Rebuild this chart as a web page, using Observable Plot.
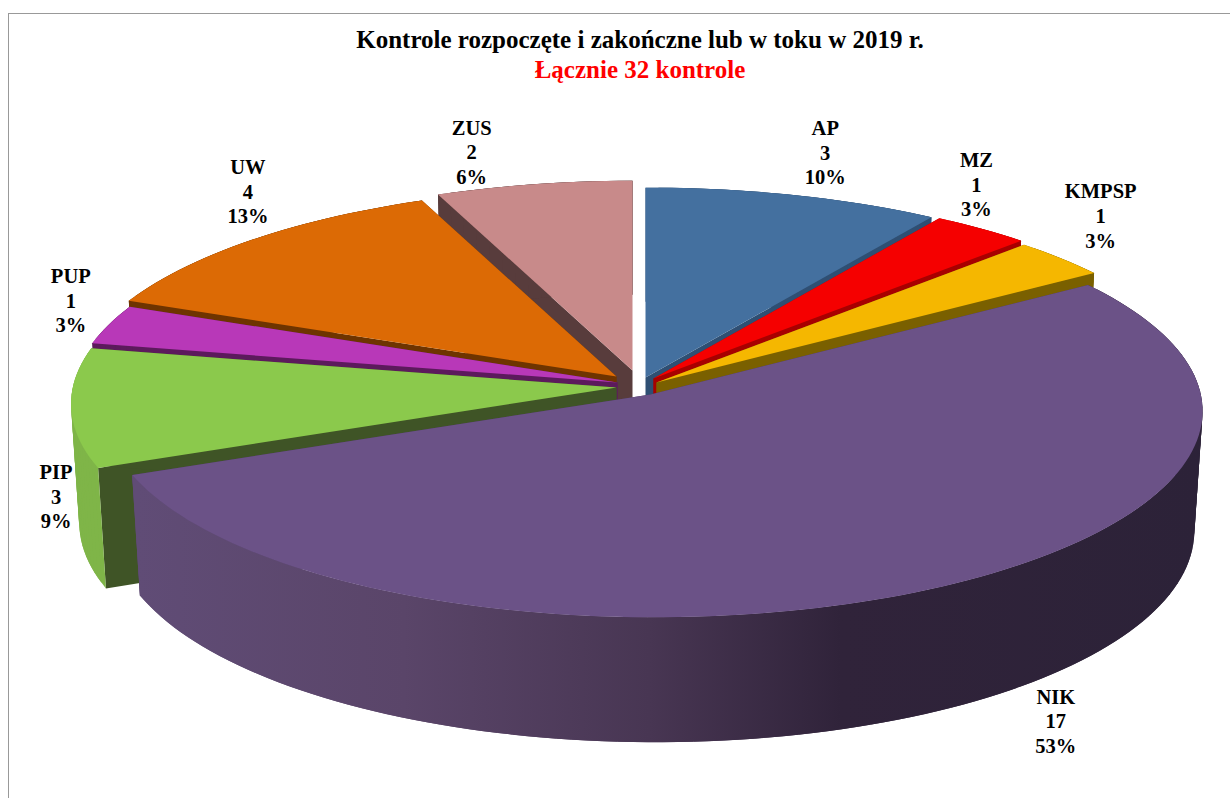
<!DOCTYPE html>
<html>
<head>
<meta charset="utf-8">
<script src="https://cdn.jsdelivr.net/npm/d3@7"></script>
<script src="https://cdn.jsdelivr.net/npm/@observablehq/plot@0.6"></script>
<style>
html,body{margin:0;padding:0;background:#fff;overflow:hidden}
#frame{position:absolute;left:8px;top:13px;width:1222px;height:785px;border-left:1px solid #999;border-top:1px solid #999;box-sizing:border-box}
#head{height:85px;box-sizing:border-box;padding-top:25px;text-align:center;font-family:"Liberation Serif",serif;font-weight:bold;line-height:30px;position:relative;left:25px}
#head .t{font-size:25px;color:#000}
#head .s{font-size:25px;color:#ff0000}
#chart{position:relative}
svg{display:block}
</style>
</head>
<body>
<div id="frame"></div>
<div id="head">
  <div class="t">Kontrole rozpoczęte i zakończne lub w toku w 2019 r.</div>
  <div class="s">Łącznie 32 kontrole</div>
</div>
<div id="chart"></div>
<script>
// Data
const categories = ["AP","MZ","KMPSP","ZUS","UW","PUP","PIP","NIK"];
const counts     = [3,1,1,2,4,1,3,17];
const percents   = ["10%","3%","3%","6%","13%","3%","9%","53%"];
// clockwise order of the pie from twelve o'clock
const pieOrder   = ["AP","MZ","KMPSP","NIK","PIP","PUP","UW","ZUS"];

// Colours
const topColors  = ["#44709f","#f50000","#f5b700","#c88a8a","#dc6a05","#b838b8","#8bc94c","#6b5287"];
const cutColors  = ["#2f4f73","#a80000","#7a6000","#583c3c","#6e3400","#5c1a5c","#3f5426","#4a3a5c"];
const rimColors  = ["#2f4f73","#a80000","#7a6000","#583c3c","#6e3400","#5c1a5c","#7fb548","url(#nikRim)"];

// Layout of the 3-D projection (exploded apex of every slice, label nudges)
const apexX  = [645,653,656,632,616,617,616,650];
const apexY  = [377,378,382,370,376,382,387,394];
const nudgeX = [32,-5,40,-62,-4,-38,-15,127];
const nudgeY = [-43,-45,-43,-33,-49,-25,88,131];
const R = 547, Ry = 205, persp = 0.08, skew = 0.006, depth = 119, lowScale = 0.985;

const total = d3.sum(counts);
const rad = d => d * Math.PI / 180;

// Angular extent of each slice, from the counts
let acc = 0;
const extents = new Map(pieOrder.map(c => {
  const v = counts[categories.indexOf(c)] / total * 360;
  const e = [acc, acc + v];
  acc += v;
  return [c, e];
}));

function project(i, a, low) {
  const X = Math.sin(rad(a)), Y = Math.cos(rad(a));
  const w = 1 + persp * Y - skew * X;
  const s = low ? lowScale : 1;
  return {
    x: apexX[i] + R * s * X / w,
    y: apexY[i] - Ry * (low ? 0.98 : 1) * Y / w + (low ? depth / w : 0)
  };
}
function apex(i, low) {
  return {x: apexX[i], y: apexY[i] + (low ? depth : 0)};
}
function arc(i, a0, a1) {
  const n = Math.max(2, Math.ceil(Math.abs(a1 - a0) / 1.5));
  return d3.range(n + 1).map(k => a0 + (a1 - a0) * k / n);
}

// Faces, painted back to front in the categories' order
const faces = [];
categories.forEach((c, i) => {
  const [a0, a1] = extents.get(c);
  faces.push({fill: cutColors[i], pts: [apex(i,false), project(i,a0,false), project(i,a0,true), apex(i,true)]});
  faces.push({fill: cutColors[i], pts: [apex(i,false), project(i,a1,false), project(i,a1,true), apex(i,true)]});
  const steps = arc(i, a0, a1);
  // The outer wall is swept strip by strip so that its silhouette stays whole;
  // each strip overlaps the next one so that no seams show
  d3.pairs(steps).forEach(([p, q]) => {
    const e = Math.min(a1, q + (q - p));
    faces.push({fill: rimColors[i], pts: [project(i,p,false), project(i,e,false), project(i,e,true), project(i,p,true)]});
  });
  faces.push({fill: topColors[i], pts: [apex(i,false), ...steps.map(a => project(i,a,false))]});
});

const labels = categories.map((c, i) => {
  const [a0, a1] = extents.get(c);
  const p = project(i, (a0 + a1) / 2, false);
  return {x: p.x + nudgeX[i], y: p.y + nudgeY[i], text: `${c}\n${counts[i]}\n${percents[i]}`};
});

const plot = Plot.plot({
  width: 1230,
  height: 713,
  margin: 0,
  x: {domain: [0, 1230], range: [0, 1230], axis: null},
  y: {domain: [85, 798], range: [0, 713], axis: null},
  marks: [
    ...faces.map(f => Plot.line(f.pts, {x: "x", y: "y", fill: f.fill, stroke: "none", curve: "linear"})),
    Plot.text(labels, {
      x: "x", y: "y", text: "text",
      fontFamily: "Liberation Serif", fontWeight: "bold", fontSize: 20.5,
      lineHeight: 1.2, fill: "#000", textAnchor: "middle", lineAnchor: "middle"
    })
  ]
});

// Horizontal shading of the big slice's outer wall
const stops = [[0,"#604c76"],[0.25,"#5a4569"],[0.48,"#483653"],[0.66,"#30233a"],[1,"#2c2238"]];
const defs = d3.create("svg:defs");
const grad = defs.append("linearGradient")
  .attr("id","nikRim").attr("gradientUnits","userSpaceOnUse")
  .attr("x1",137).attr("x2",1203).attr("y1",0).attr("y2",0);
stops.forEach(([o,c]) => grad.append("stop").attr("offset",o).attr("stop-color",c));
plot.prepend(defs.node());

document.getElementById("chart").appendChild(plot);
</script>
</body>
</html>
